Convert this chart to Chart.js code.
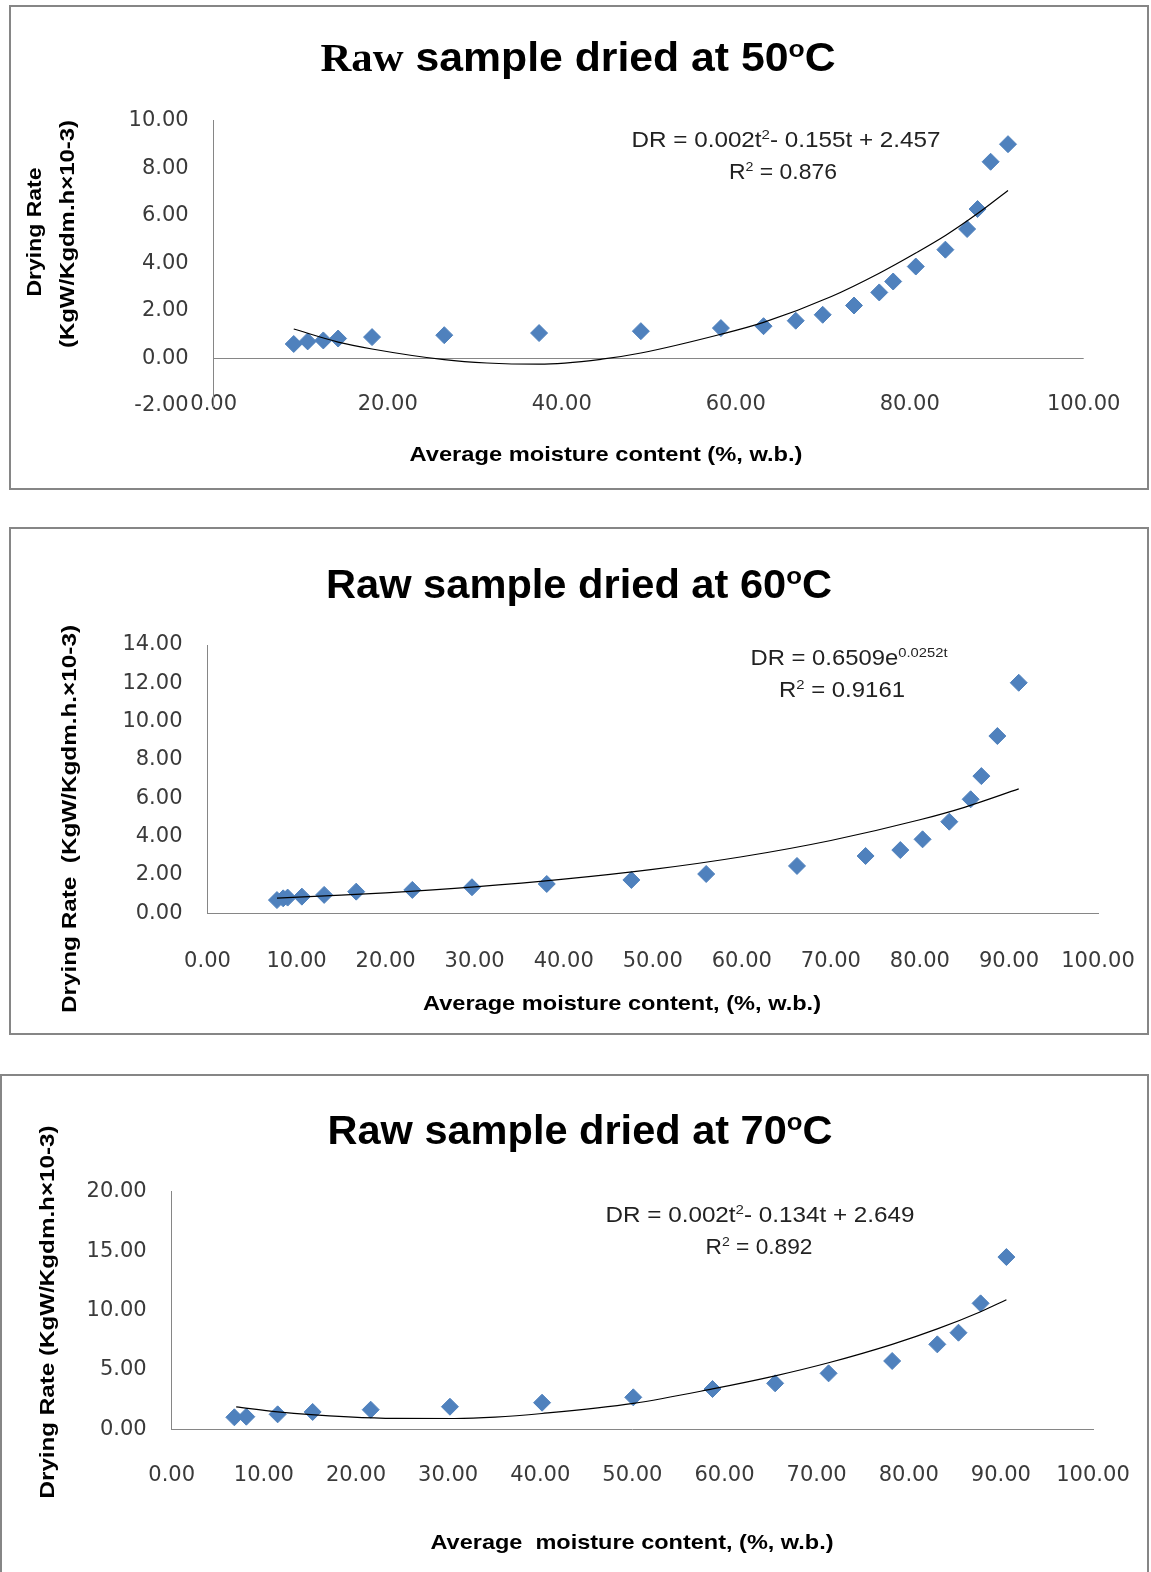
<!DOCTYPE html>
<html>
<head>
<meta charset="utf-8">
<title>Drying rate vs moisture content</title>
<script src="https://cdn.jsdelivr.net/npm/chart.js@4.4.1/dist/chart.umd.min.js"></script>
<style>
  html, body { margin: 0; padding: 0; background: #fff; }
  body { position: relative; width: 1151px; height: 1572px; overflow: hidden; }
  canvas { position: absolute; }
</style>
</head>
<body>
<canvas id="chart50"></canvas>
<canvas id="chart60"></canvas>
<canvas id="chart70"></canvas>
<script>
// 50 C - measured points
const moisture50 = [9.2, 10.8, 12.6, 14.3, 18.2, 26.5, 37.4, 49.1, 58.3, 63.2, 66.9, 70.0, 73.6, 76.5, 78.1, 80.7, 84.1, 86.6, 87.8, 89.3, 91.3];
const rate50 = [0.61, 0.72, 0.76, 0.84, 0.90, 0.98, 1.07, 1.15, 1.28, 1.36, 1.59, 1.84, 2.23, 2.78, 3.24, 3.87, 4.58, 5.45, 6.29, 8.28, 9.02];
// 50 C - trendline
const trendMoisture50 = [9.2, 14.3, 18.2, 26.5, 31.4, 37.4, 44.6, 49.1, 58.3, 63.2, 71.0, 76.5, 80.7, 84.2, 87.8, 91.3];
const trendRate50 = [1.24, 0.69, 0.40, -0.05, -0.19, -0.24, -0.03, 0.23, 1.02, 1.52, 2.61, 3.59, 4.44, 5.20, 6.10, 7.07];

// 60 C
const moisture60 = [7.8, 8.5, 9.0, 10.6, 13.1, 16.7, 23.0, 29.7, 38.1, 47.6, 56.0, 66.2, 73.9, 77.8, 80.3, 83.3, 85.7, 86.9, 88.7, 91.1];
const rate60 = [0.69, 0.78, 0.82, 0.87, 0.96, 1.13, 1.22, 1.36, 1.53, 1.74, 2.05, 2.47, 2.99, 3.30, 3.86, 4.78, 5.95, 7.16, 9.25, 12.03];
const trendMoisture60 = [7.8, 15, 20, 30, 40, 50, 60, 70, 80, 85, 91.1];
const trendRate60 = [0.79, 0.95, 1.07, 1.38, 1.78, 2.29, 2.95, 3.80, 4.88, 5.53, 6.49];

// 70 C
const moisture70 = [6.8, 8.1, 11.5, 15.3, 21.6, 30.2, 40.2, 50.1, 58.7, 65.5, 71.3, 78.2, 83.1, 85.4, 87.8, 90.6];
const rate70 = [1.01, 1.06, 1.26, 1.46, 1.65, 1.90, 2.24, 2.69, 3.39, 3.87, 4.71, 5.75, 7.15, 8.13, 10.6, 14.5];
const trendMoisture70 = [7.0, 11.5, 19.2, 24.3, 30.7, 35.1, 40.2, 50.1, 58.7, 65.5, 71.3, 78.2, 83.1, 87.8, 90.6];
const trendRate70 = [1.88, 1.47, 1.05, 0.92, 0.91, 1.02, 1.33, 2.18, 3.40, 4.50, 5.60, 7.15, 8.45, 9.90, 10.90];

const BLUE = '#4F81BD';
const AXIS = '#868686';
const TICK_COLOR = '#3a3a3a';
const SANS = "'Liberation Sans', Arial, sans-serif";
const SERIF = "'Liberation Serif', 'Times New Roman', serif";
const TICK_FAMILY = "'DejaVu Sans', sans-serif";
const TICK_SIZE = 21;

// draws a line made of pieces (some superscript), centred on x/y and stretched to width
function drawRich(ctx, segs, o) {
    ctx.save();
    ctx.fillStyle = o.color || '#000';
    ctx.textBaseline = 'alphabetic';
    ctx.textAlign = 'left';
    const parts = segs.map(s => {
        const size = s.sup ? o.size * 0.62 : o.size;
        const font = `${o.weight || 'normal'} ${size}px ${s.family || o.family || SANS}`;
        ctx.font = font;
        return { text: s.t, sup: s.sup, font, w: ctx.measureText(s.t).width };
    });
    const natural = parts.reduce((a, p) => a + p.w, 0);
    ctx.translate(o.x, o.y);
    if (o.rotate) ctx.rotate(-Math.PI / 2);
    ctx.scale(o.width ? o.width / natural : 1, 1);
    const base = o.size * 0.36;     // puts the cap-height middle on y
    let x = -natural / 2;
    parts.forEach(p => {
        ctx.font = p.font;
        ctx.fillText(p.text, x, p.sup ? base - o.size * 0.36 : base);
        x += p.w;
    });
    ctx.restore();
}

function decor(spec) {
    return {
        id: 'decor',
        afterDraw(chart) {
            const ctx = chart.ctx;
            const b = spec.box;
            ctx.save();
            ctx.translate(-b.x, -b.y);   // work in page coordinates
            ctx.strokeStyle = AXIS;
            ctx.lineWidth = 2;
            ctx.strokeRect(b.x + 1, b.y + 1, b.w - 2, b.h - 2);
            spec.texts.forEach(t => drawRich(ctx, t.segs, t));
            ctx.restore();
        }
    };
}

function makeChart(id, spec) {
    const { box, area } = spec;
    const canvas = document.getElementById(id);
    canvas.width = box.w;
    canvas.height = box.h;
    canvas.style.left = box.x + 'px';
    canvas.style.top = box.y + 'px';
    const YW = 120, XH = 80;
    const a = { l: area.l - box.x, t: area.t - box.y, r: area.r - box.x, b: area.b - box.y };
    const fmt = v => Number(v).toFixed(2);
    // x axis either sits under the plot or crosses it at y = 0 (50 C chart)
    const xAtZero = spec.xAtZero;
    const zeroPx = area.b - (0 - spec.yRange[0]) / (spec.yRange[1] - spec.yRange[0]) * (area.b - area.t);
    // x labels are pushed down through the line height (padding would also widen the side margins)
    const labelDrop = spec.xLabelY - (xAtZero ? zeroPx : area.b);

    return new Chart(canvas.getContext('2d'), {
        type: 'scatter',
        data: {
            datasets: [
                {
                    type: 'line',
                    data: spec.trendX.map((x, i) => ({ x, y: spec.trendY[i] })),
                    borderColor: '#000',
                    borderWidth: 1.2,
                    pointRadius: 0,
                    fill: false,
                    cubicInterpolationMode: 'monotone',
                    order: 0
                },
                {
                    data: spec.x.map((x, i) => ({ x, y: spec.y[i] })),
                    pointStyle: 'rectRot',
                    pointRadius: 8.5,
                    backgroundColor: BLUE,
                    borderColor: BLUE,
                    borderWidth: 1,
                    order: 1
                }
            ]
        },
        options: {
            responsive: false,
            animation: false,
            events: [],
            layout: { padding: { left: a.l - YW, top: a.t, right: box.w - a.r, bottom: box.h - a.b - (xAtZero ? 0 : XH) } },
            plugins: { legend: { display: false }, tooltip: { enabled: false } },
            scales: {
                x: {
                    type: 'linear',
                    position: xAtZero ? { y: 0 } : 'bottom',
                    min: spec.xRange[0], max: spec.xRange[1],
                    afterFit: s => { s.height = XH; },
                    ticks: {
                        stepSize: spec.xStep, autoSkip: false, maxRotation: 0,
                        color: TICK_COLOR,
                        font: { family: TICK_FAMILY, size: TICK_SIZE, lineHeight: 2 * labelDrop / TICK_SIZE },
                        padding: 0,
                        callback: fmt
                    },
                    grid: { display: false, drawTicks: false },
                    border: { display: !xAtZero, color: AXIS, width: 1 }
                },
                y: {
                    type: 'linear',
                    min: spec.yRange[0], max: spec.yRange[1],
                    afterFit: s => { s.width = YW; },
                    ticks: {
                        stepSize: spec.yStep, color: TICK_COLOR,
                        font: { family: TICK_FAMILY, size: TICK_SIZE },
                        padding: 25, callback: fmt
                    },
                    grid: {
                        display: !!xAtZero, drawTicks: false, lineWidth: 1,
                        color: c => (c.tick && c.tick.value === 0) ? AXIS : 'rgba(0,0,0,0)'
                    },
                    border: { display: true, color: AXIS, width: 1 }
                }
            }
        },
        plugins: [decor(spec)]
    });
}

const plain = s => [{ t: s }];

makeChart('chart50', {
    box: { x: 9, y: 5, w: 1140, h: 485 },
    area: { l: 213.7, t: 120.9, r: 1083.7, b: 406 },
    xRange: [0, 100], xStep: 20, yRange: [-2, 10], yStep: 2,
    xLabelY: 405, xAtZero: true,
    x: moisture50, y: rate50, trendX: trendMoisture50, trendY: trendRate50,
    texts: [
        { segs: [{ t: 'Raw', family: SERIF }, { t: ' sample dried at 50' }, { t: 'o', sup: true }, { t: 'C' }],
          x: 578, y: 57, size: 40, weight: 'bold', width: 515 },
        { segs: [{ t: 'DR = 0.002t' }, { t: '2', sup: true }, { t: '- 0.155t + 2.457' }],
          x: 786, y: 139, size: 22, width: 309, color: '#222' },
        { segs: [{ t: 'R' }, { t: '2', sup: true }, { t: ' = 0.876' }],
          x: 783, y: 171, size: 22, width: 108, color: '#222' },
        { segs: plain('Drying Rate'), x: 33, y: 232, size: 21, weight: 'bold', width: 129, rotate: true },
        { segs: plain('(KgW/Kgdm.h\u00d710-3)'), x: 66, y: 234, size: 21, weight: 'bold', width: 228, rotate: true },
        { segs: plain('Average moisture content (%, w.b.)'), x: 606, y: 453, size: 21, weight: 'bold', width: 393 }
    ]
});

makeChart('chart60', {
    box: { x: 9, y: 527, w: 1140, h: 508 },
    area: { l: 207.5, t: 645, r: 1098, b: 913.3 },
    xRange: [0, 100], xStep: 10, yRange: [0, 14], yStep: 2,
    xLabelY: 962, xAtZero: false,
    x: moisture60, y: rate60, trendX: trendMoisture60, trendY: trendRate60,
    texts: [
        { segs: [{ t: 'Raw sample dried at 60' }, { t: 'o', sup: true }, { t: 'C' }],
          x: 579, y: 584, size: 40, weight: 'bold', width: 506 },
        { segs: [{ t: 'DR = 0.6509e' }, { t: '0.0252t', sup: true }],
          x: 849, y: 657, size: 22, width: 197, color: '#222' },
        { segs: [{ t: 'R' }, { t: '2', sup: true }, { t: ' = 0.9161' }],
          x: 842, y: 689, size: 22, width: 126, color: '#222' },
        { segs: plain('Drying Rate  (KgW/Kgdm.h.\u00d710-3)'), x: 68, y: 819, size: 21, weight: 'bold', width: 388, rotate: true },
        { segs: plain('Average moisture content, (%, w.b.)'), x: 622, y: 1002, size: 21, weight: 'bold', width: 398 }
    ]
});

makeChart('chart70', {
    box: { x: 0, y: 1074, w: 1149, h: 520 },
    area: { l: 171.7, t: 1191.7, r: 1093, b: 1429.3 },
    xRange: [0, 100], xStep: 10, yRange: [0, 20], yStep: 5,
    xLabelY: 1476, xAtZero: false,
    x: moisture70, y: rate70, trendX: trendMoisture70, trendY: trendRate70,
    texts: [
        { segs: [{ t: 'Raw sample dried at 70' }, { t: 'o', sup: true }, { t: 'C' }],
          x: 580, y: 1130, size: 40, weight: 'bold', width: 505 },
        { segs: [{ t: 'DR = 0.002t' }, { t: '2', sup: true }, { t: '- 0.134t + 2.649' }],
          x: 760, y: 1214, size: 22, width: 309, color: '#222' },
        { segs: [{ t: 'R' }, { t: '2', sup: true }, { t: ' = 0.892' }],
          x: 759, y: 1246, size: 22, width: 107, color: '#222' },
        { segs: plain('Drying Rate (KgW/Kgdm.h\u00d710-3)'), x: 46, y: 1312, size: 21, weight: 'bold', width: 373, rotate: true },
        { segs: plain('Average  moisture content, (%, w.b.)'), x: 632, y: 1541, size: 21, weight: 'bold', width: 403 }
    ]
});
</script>
</body>
</html>
